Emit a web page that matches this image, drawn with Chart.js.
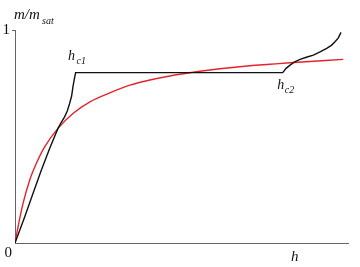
<!DOCTYPE html>
<html>
<head>
<meta charset="utf-8">
<script src="https://cdn.jsdelivr.net/npm/chart.js@4"></script>
<style>
  html, body { margin: 0; padding: 0; background: #fff; }
  #wrap { width: 360px; height: 267px; }
</style>
</head>
<body>
<div id="wrap"><canvas id="chart"></canvas></div>
<script>
// field h (arbitrary units, 0..10) and magnetisation m/m_sat
const stepH = [0, 0.29, 0.54, 0.79, 1.04, 1.29, 1.39, 1.49, 1.57, 1.64, 1.70, 1.74, 1.78, 1.82,
               8.04, 8.14, 8.26, 8.40, 8.56, 8.75, 8.96, 9.16, 9.36, 9.50, 9.61, 9.71, 9.79];
const stepM = [0, 0.122, 0.232, 0.342, 0.444, 0.538, 0.566, 0.592, 0.62, 0.655, 0.69, 0.733, 0.768, 0.80,
               0.80, 0.82, 0.835, 0.851, 0.862, 0.872, 0.882, 0.897, 0.914, 0.928, 0.945, 0.963, 0.989];

const smoothH = [0, 0.09, 0.24, 0.44, 0.64, 0.89, 1.29, 1.74, 2.25, 2.85, 3.45, 4.05, 4.65, 5.25, 5.85, 6.45, 7.05, 7.65, 8.26, 9.86];
const smoothM = [0, 0.075, 0.185, 0.295, 0.373, 0.451, 0.538, 0.608, 0.663, 0.705, 0.741, 0.765, 0.784, 0.799, 0.812, 0.823, 0.832, 0.839, 0.846, 0.862];

const hc1 = 1.82;
const hc2 = 8.04;
const plateau = 0.80;

const toPts = (xs, ys) => xs.map((x, i) => ({ x: x, y: ys[i] }));

const serif = '"Liberation Serif", "DejaVu Serif", serif';

// labels drawn on top of the chart
const labelPlugin = {
    id: 'labels',
    afterDraw(chart) {
        const c = chart.ctx;
        const xs = chart.scales.x;
        const ys = chart.scales.y;
        c.save();
        c.fillStyle = '#111';
        c.textBaseline = 'alphabetic';

        // y axis title m/m_sat
        c.font = 'italic 15px ' + serif;
        c.fillText('m/m', 14, 19);
        c.font = 'italic 10px ' + serif;
        c.fillText('sat', 42, 23.5);

        // tick labels
        c.font = '15px ' + serif;
        c.textAlign = 'right';
        c.fillText('1', 10, ys.getPixelForValue(1) + 4);
        c.fillText('0', 12, ys.getPixelForValue(0) + 14);
        c.textAlign = 'left';

        // x axis title
        c.font = 'italic 15px ' + serif;
        c.fillText('h', 291, 260.5);

        // critical fields
        const p = ys.getPixelForValue(plateau);
        c.font = 'italic 14px ' + serif;
        c.fillText('h', xs.getPixelForValue(hc1) - 7.5, p - 13);
        c.font = 'italic 10px ' + serif;
        c.fillText('c1', xs.getPixelForValue(hc1) + 1, p - 9);

        c.font = 'italic 14px ' + serif;
        c.fillText('h', xs.getPixelForValue(hc2) - 5.5, p + 16);
        c.font = 'italic 10px ' + serif;
        c.fillText('c2', xs.getPixelForValue(hc2) + 2, p + 20.5);
        c.restore();
    }
};

new Chart(document.getElementById('chart'), {
    type: 'line',
    data: {
        datasets: [
            {
                label: 'step',
                data: toPts(stepH, stepM),
                borderColor: '#111',
                borderWidth: 1.4,
                tension: 0,
                pointRadius: 0,
                fill: false
            },
            {
                label: 'smooth',
                data: toPts(smoothH, smoothM),
                borderColor: '#e4242c',
                borderWidth: 1.4,
                cubicInterpolationMode: 'monotone',
                pointRadius: 0,
                fill: false
            }
        ]
    },
    options: {
        responsive: true,
        maintainAspectRatio: false,
        animation: false,
        layout: { padding: { left: 15, right: 12, top: 30, bottom: 24 } },
        plugins: {
            legend: { display: false },
            tooltip: { enabled: false }
        },
        scales: {
            x: {
                type: 'linear',
                min: 0,
                max: 10,
                ticks: { display: false },
                grid: { display: false },
                border: { display: true, color: '#666', width: 1 },
                afterFit: s => { s.height = 0; }
            },
            y: {
                type: 'linear',
                min: 0,
                max: 1,
                ticks: { display: false, stepSize: 1 },
                grid: {
                    drawOnChartArea: false,
                    drawTicks: true,
                    tickLength: 3,
                    color: ctx => (ctx.tick && ctx.tick.value === 1) ? '#666' : 'rgba(0,0,0,0)'
                },
                border: { display: true, color: '#666', width: 1 },
                afterFit: s => { s.width = 0; }
            }
        }
    },
    plugins: [labelPlugin]
});
</script>
</body>
</html>
